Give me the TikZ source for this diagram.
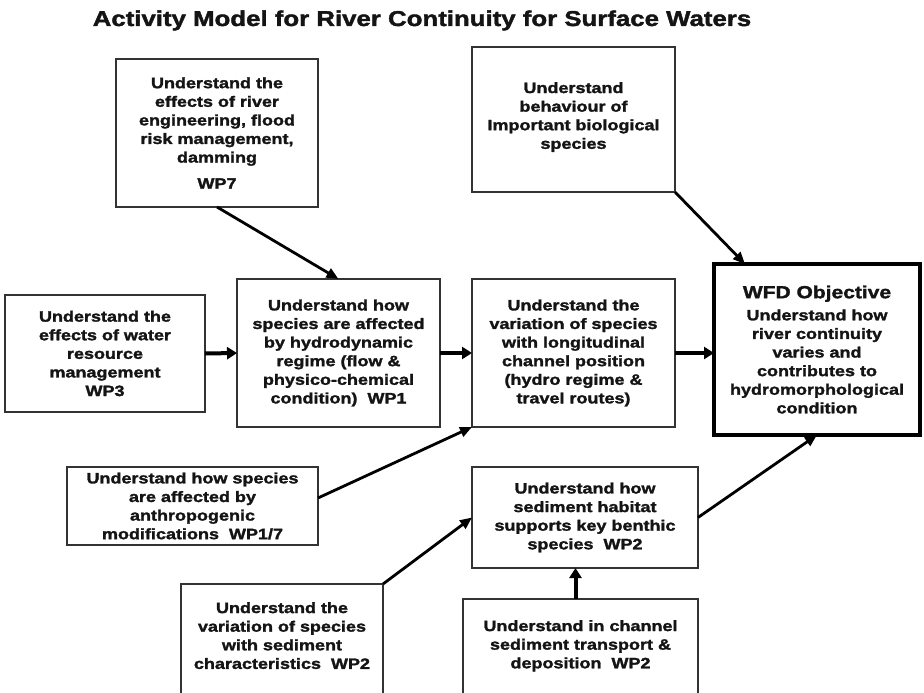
\documentclass[tikz,border=0pt]{standalone}
\usepackage{fontspec}
\newfontfamily\wpfont[FakeStretch=1.2,BoldFeatures={FakeBold=1.8}]{Liberation Sans}
\usetikzlibrary{arrows.meta}

\tikzset{
  wptext/.style={align=center,inner sep=0pt,text=black!92,font=\wpfont\bfseries\fontsize{15}{18.6}\selectfont},
  wpbox/.style={wptext,draw=black!80,line width=1.1pt,outer sep=0pt},
  objbox/.style={wpbox,draw=black,line width=4pt},
  thinarr/.style={line width=2.8pt,-{Triangle[length=12pt,width=10pt]}},
  fatarr/.style={line width=4pt,-{Triangle[length=10pt,width=12pt]}},
}

\begin{document}
\begin{tikzpicture}[x=1pt,y=-1pt]
\useasboundingbox(0,0)rectangle(924,693);\clip(0,0)rectangle(924,693);
\node[wptext,font=\wpfont\bfseries\fontsize{21.5}{26}\selectfont,anchor=base](title)at(422,26){Activity Model for River Continuity for Surface Waters};
% top row
\node[wpbox,minimum width=202pt,minimum height=148pt](wp7)at(217,133){Understand the\\effects of river\\engineering, flood\\risk management,\\damming\\[7.5pt]WP7};
\node[wpbox,minimum width=203pt,minimum height=145pt](behav)at(573.5,119.5){Understand\\behaviour of\\Important biological\\species\\[-10.6pt]\mbox{}};
% middle row
\node[wpbox,minimum width=200pt,minimum height=117pt](wp3)at(105,353.5){Understand the\\effects of water\\resource\\management\\WP3};
\node[wpbox,minimum width=203pt,minimum height=148pt](wp1)at(338.5,353){Understand how\\species are affected\\by hydrodynamic\\regime (flow \&\\physico-chemical\\condition)~~WP1};
\node[wpbox,minimum width=203pt,minimum height=148pt](longi)at(573.5,353){Understand the\\variation of species\\with longitudinal\\channel position\\(hydro regime \&\\travel routes)};
\node[objbox,minimum width=206pt,minimum height=171pt](wfd)at(817,349.5){{\fontsize{17.5}{22}\selectfont WFD Objective}\\[3.5pt]Understand how\\river continuity\\varies and\\contributes to\\hydromorphological\\condition};
% lower rows
\node[wpbox,minimum width=251pt,minimum height=78pt](anthro)at(192.5,506){Understand how species\\are affected by\\anthropogenic\\modifications~~WP1/7};
\node[wpbox,minimum width=226pt,minimum height=101pt](habitat)at(585,517.5){Understand how\\sediment habitat\\supports key benthic\\species~~WP2};
\node[wpbox,minimum width=202pt,minimum height=156pt,label={[wptext,below=18pt]north:{Understand the\\variation of species\\with sediment\\characteristics~~WP2}}](chars)at(282,662){};
\node[wpbox,minimum width=235pt,minimum height=141pt,label={[wptext,below=21pt]north:{Understand in channel\\sediment transport \&\\deposition~~WP2}}](channel)at(580.5,669.5){};
% arrows
\draw[thinarr](wp7.south)--(wp1.north);
\draw[thinarr](behav.south east)--([xshift=31pt]wfd.north west);
\draw[fatarr](wp3.east)--(wp1.west);\draw[fatarr](wp1.east)--(longi.west);\draw[fatarr](longi.east)--(longi.east-|wfd.west);
\draw[thinarr]([yshift=8pt]anthro.east)--(longi.south west);
\draw[thinarr](habitat.east)--(wfd.south);
\draw[thinarr](chars.north east)--(habitat.west);
\draw[fatarr]([xshift=-5pt]channel.north)--([xshift=-5pt]channel.north|-habitat.south);
\end{tikzpicture}
\end{document}
